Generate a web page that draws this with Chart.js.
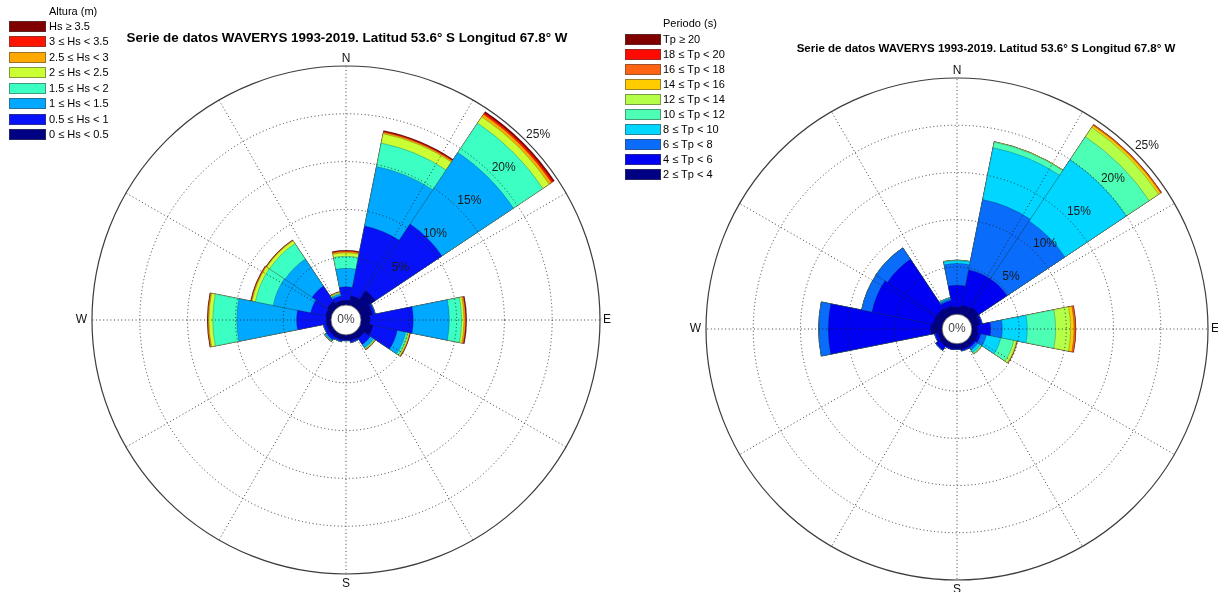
<!DOCTYPE html>
<html>
<head>
<meta charset="utf-8">
<script src="https://cdn.jsdelivr.net/npm/chart.js@4.4.0/dist/chart.umd.min.js"></script>
<style>
  html, body { margin: 0; padding: 0; background: #fff; }
  body { width: 1218px; height: 592px; position: relative; overflow: hidden;
         font-family: "Liberation Sans", Arial, Helvetica, sans-serif; color: #000; }
  canvas.rose { position: absolute; left: 0; top: 0; }
  .title { position: absolute; font-weight: bold; white-space: nowrap;
           transform: translate(-50%, -50%); z-index: 3; }
  .leg { position: absolute; left: 0; top: 0; z-index: 3; font-size: 11px; }
  .leg .ttl, .leg .lab { position: absolute; white-space: nowrap; line-height: 13px; }
  .leg .sw { position: absolute; box-sizing: border-box; border: 1px solid rgba(70,70,70,0.55); }
</style>
</head>
<body>
<canvas id="roseHs" class="rose" width="1218" height="592"></canvas>
<canvas id="roseTp" class="rose" width="1218" height="592"></canvas>
<div id="titleHs" class="title" style="left:347px; top:37px; font-size:13.4px;">Serie de datos WAVERYS 1993-2019. Latitud 53.6° S Longitud 67.8° W</div>
<div id="titleTp" class="title" style="left:986px; top:48px; font-size:11.5px;">Serie de datos WAVERYS 1993-2019. Latitud 53.6° S Longitud 67.8° W</div>
<div id="legHs" class="leg"></div>
<div id="legTp" class="leg"></div>

<script>
// Direction sectors, clockwise from north
const directions = ['N','NNE','NE','ENE','E','ESE','SE','SSE','S','SSW','SW','WSW','W','WNW','NW','NNW'];

// Frequency (%) per direction for each significant wave height class
const hs_00_05 = [0.50, 1.00, 2.10, 1.25, 0.94, 1.30, 0.70, 0.60, 0.50, 0.50, 0.50, 0.50, 0.50, 0.60, 0.75, 0.50];
const hs_05_10 = [1.40, 7.45, 8.40, 0.25, 4.53, 2.60, 0.80, 0.20, 0.10, 0.20, 0.40, 0.30, 3.10, 1.60, 1.95, 0.50];
const hs_10_15 = [1.94, 6.35, 9.00, 0.05, 3.77, 0.90, 0.40, 0.05, 0.00, 0.05, 0.15, 0.05, 6.26, 4.00, 3.40, 0.20];
const hs_15_20 = [1.26, 2.50, 3.70, 0.00, 1.29, 0.25, 0.12, 0.00, 0.00, 0.00, 0.05, 0.00, 2.51, 1.90, 1.95, 0.10];
const hs_20_25 = [0.35, 1.00, 0.80, 0.00, 0.24, 0.15, 0.08, 0.00, 0.00, 0.00, 0.04, 0.00, 0.40, 0.35, 0.35, 0.10];
const hs_25_30 = [0.15, 0.15, 0.30, 0.00, 0.16, 0.06, 0.04, 0.00, 0.00, 0.00, 0.02, 0.00, 0.10, 0.08, 0.06, 0.05];
const hs_30_35 = [0.08, 0.10, 0.20, 0.00, 0.07, 0.03, 0.02, 0.00, 0.00, 0.00, 0.00, 0.00, 0.05, 0.05, 0.03, 0.02];
const hs_35_up = [0.05, 0.08, 0.15, 0.00, 0.06, 0.02, 0.00, 0.00, 0.00, 0.00, 0.00, 0.00, 0.03, 0.03, 0.02, 0.00];
const hsSeries = [hs_00_05, hs_05_10, hs_10_15, hs_15_20, hs_20_25, hs_25_30, hs_30_35, hs_35_up];
const hsLabels = ['0 \u2264 Hs < 0.5', '0.5 \u2264 Hs < 1', '1 \u2264 Hs < 1.5', '1.5 \u2264 Hs < 2',
                  '2 \u2264 Hs < 2.5', '2.5 \u2264 Hs < 3', '3 \u2264 Hs < 3.5', 'Hs \u2265 3.5'];
const hsColors = ['#000082', '#0812F8', '#00A8FF', '#3CFFC4', '#CCFF33', '#FFA800', '#FF1400', '#800000'];

// Frequency (%) per direction for each peak period class
const tp_02_04 = [0.76, 1.00, 1.20, 0.90, 0.58, 0.70, 0.60, 0.60, 0.50, 0.50, 0.60, 0.50, 1.20, 1.00, 1.00, 0.90];
const tp_04_06 = [2.30, 3.80, 3.60, 0.20, 1.42, 0.30, 0.20, 0.15, 0.10, 0.15, 0.50, 0.30, 10.86, 6.60, 6.30, 0.60];
const tp_06_08 = [2.30, 7.60, 7.37, 0.05, 1.23, 0.60, 0.30, 0.05, 0.00, 0.00, 0.05, 0.05, 0.99, 1.10, 1.43, 0.20];
const tp_08_10 = [0.30, 5.60, 7.80, 0.00, 2.65, 1.55, 0.30, 0.00, 0.00, 0.00, 0.00, 0.00, 0.02, 0.02, 0.02, 0.10];
const tp_10_12 = [0.05, 0.60, 2.93, 0.00, 3.00, 1.40, 0.15, 0.00, 0.00, 0.00, 0.00, 0.00, 0.00, 0.00, 0.00, 0.02];
const tp_12_14 = [0.00, 0.05, 1.20, 0.00, 1.58, 0.30, 0.05, 0.00, 0.00, 0.00, 0.00, 0.00, 0.00, 0.00, 0.00, 0.00];
const tp_14_16 = [0.00, 0.00, 0.25, 0.00, 0.36, 0.05, 0.01, 0.00, 0.00, 0.00, 0.00, 0.00, 0.00, 0.00, 0.00, 0.00];
const tp_16_18 = [0.00, 0.00, 0.10, 0.00, 0.17, 0.02, 0.00, 0.00, 0.00, 0.00, 0.00, 0.00, 0.00, 0.00, 0.00, 0.00];
const tp_18_20 = [0.00, 0.00, 0.02, 0.00, 0.02, 0.00, 0.00, 0.00, 0.00, 0.00, 0.00, 0.00, 0.00, 0.00, 0.00, 0.00];
const tp_20_up = [0.00, 0.00, 0.00, 0.00, 0.00, 0.00, 0.00, 0.00, 0.00, 0.00, 0.00, 0.00, 0.00, 0.00, 0.00, 0.00];
const tpSeries = [tp_02_04, tp_04_06, tp_06_08, tp_08_10, tp_10_12, tp_12_14, tp_14_16, tp_16_18, tp_18_20, tp_20_up];
const tpLabels = ['2 \u2264 Tp < 4', '4 \u2264 Tp < 6', '6 \u2264 Tp < 8', '8 \u2264 Tp < 10', '10 \u2264 Tp < 12',
                  '12 \u2264 Tp < 14', '14 \u2264 Tp < 16', '16 \u2264 Tp < 18', '18 \u2264 Tp < 20', 'Tp \u2265 20'];
const tpColors = ['#000082', '#0000F2', '#0A6CFA', '#00D6FF', '#4CFFB4', '#B6FF48', '#FFCC00', '#FF6414', '#FF0A00', '#800000'];

// Radial rings (%) and the offset that leaves the central "0%" hole
const ringTicks = [5, 10, 15, 20, 25];
const holeOffset = 1.57;

const FONT = '"Liberation Sans", Arial, Helvetica, sans-serif';

// Grid, central hole and labels drawn on top of the stacked sectors
const roseDecor = {
  id: 'roseDecor',
  afterDatasetsDraw(chart, args, opts) {
    const s = chart.scales.r;
    const ctx = chart.ctx;
    const cx = s.xCenter, cy = s.yCenter;
    const rad = v => s.getDistanceFromCenterForValue(v);
    const r0 = rad(0), rMax = rad(s.max);
    const pt = (deg, r) => [cx + r * Math.sin(deg * Math.PI / 180), cy - r * Math.cos(deg * Math.PI / 180)];
    ctx.save();

    // dotted rings and spokes
    ctx.lineWidth = 1;
    ctx.strokeStyle = 'rgba(30,30,30,0.85)';
    ctx.setLineDash([1, 2.6]);
    ringTicks.filter(v => v < s.max).forEach(v => {
      ctx.beginPath(); ctx.arc(cx, cy, rad(v), 0, Math.PI * 2); ctx.stroke();
    });
    for (let a = 0; a < 360; a += 30) {
      const p0 = pt(a, r0), p1 = pt(a, rMax);
      ctx.beginPath(); ctx.moveTo(p0[0], p0[1]); ctx.lineTo(p1[0], p1[1]); ctx.stroke();
    }

    // outer circle
    ctx.setLineDash([]);
    ctx.strokeStyle = '#3c3c3c';
    ctx.lineWidth = 1.2;
    ctx.beginPath(); ctx.arc(cx, cy, rMax, 0, Math.PI * 2); ctx.stroke();

    // central hole
    ctx.fillStyle = '#fff';
    ctx.beginPath(); ctx.arc(cx, cy, r0, 0, Math.PI * 2); ctx.fill();
    ctx.strokeStyle = '#555';
    ctx.lineWidth = 0.8;
    ctx.stroke();

    ctx.font = opts.fontSize + 'px ' + FONT;
    ctx.textAlign = 'center';
    ctx.textBaseline = 'middle';
    ctx.fillStyle = '#444';
    ctx.fillText('0%', cx, cy);

    // ring labels
    ctx.fillStyle = '#1a1a1a';
    ringTicks.forEach(v => {
      const p = pt(46, rad(v) + 13);
      ctx.fillText(v + '%', p[0], p[1]);
    });

    // compass points
    ctx.fillStyle = '#111';
    ctx.textAlign = 'center'; ctx.textBaseline = 'bottom';
    ctx.fillText('N', cx, cy - rMax - 1);
    ctx.textBaseline = 'top';
    ctx.fillText('S', cx, cy + rMax + 4);
    ctx.textBaseline = 'middle';
    ctx.textAlign = 'right';
    ctx.fillText('W', cx - rMax - 5, cy);
    ctx.textAlign = 'left';
    ctx.fillText('E', cx + rMax + 3, cy);
    ctx.restore();
  }
};

// Each class is drawn as a cumulative polar-area dataset; lower classes sit on top
function stackedDatasets(series, colors) {
  const acc = directions.map(() => 0);
  return series.map((vals, b) => {
    vals.forEach((v, i) => { acc[i] += v; });
    return {
      label: 'c' + b,
      data: acc.slice(),
      backgroundColor: colors[b],
      borderColor: 'rgba(20,20,40,0.35)',
      borderWidth: 0.7
    };
  });
}

function makeRose(id, series, colors, pad, fontSize) {
  return new Chart(document.getElementById(id), {
    type: 'polarArea',
    data: { labels: directions, datasets: stackedDatasets(series, colors) },
    options: {
      responsive: false,
      animation: false,
      events: [],
      layout: { padding: pad },
      plugins: {
        legend: { display: false },
        tooltip: { enabled: false },
        title: { display: false },
        roseDecor: { fontSize: fontSize }
      },
      scales: {
        r: {
          min: -holeOffset,
          max: 25,
          startAngle: -11.25,
          ticks: { display: false },
          grid: { display: false },
          angleLines: { display: false },
          pointLabels: { display: false }
        }
      }
    },
    plugins: [roseDecor]
  });
}

makeRose('roseHs', hsSeries, hsColors, { left: 92, top: 66, right: 618, bottom: 18 }, 12);
makeRose('roseTp', tpSeries, tpColors, { left: 706, top: 78, right: 10, bottom: 12 }, 12);

// Legends, highest class first
function buildLegend(id, title, labels, colors, g) {
  const el = document.getElementById(id);
  const t = document.createElement('div');
  t.className = 'ttl';
  t.textContent = title;
  t.style.left = g.textX + 'px';
  t.style.top = (g.titleY - 6.5) + 'px';
  el.appendChild(t);
  const n = labels.length;
  for (let k = 0; k < n; k++) {
    const b = n - 1 - k;
    const y = g.rowY + g.rowStep * k;
    const sw = document.createElement('div');
    sw.className = 'sw';
    sw.style.left = g.swX + 'px';
    sw.style.top = (y - 5.5) + 'px';
    sw.style.width = g.swW + 'px';
    sw.style.height = '11px';
    sw.style.background = colors[b];
    el.appendChild(sw);
    const lab = document.createElement('div');
    lab.className = 'lab';
    lab.textContent = labels[b];
    lab.style.left = g.textX + 'px';
    lab.style.top = (y - 6.5) + 'px';
    el.appendChild(lab);
  }
}

buildLegend('legHs', 'Altura (m)', hsLabels, hsColors,
  { textX: 49, titleY: 11, rowY: 26, rowStep: 15.5, swX: 9, swW: 37 });
buildLegend('legTp', 'Periodo (s)', tpLabels, tpColors,
  { textX: 663, titleY: 23, rowY: 39, rowStep: 15, swX: 625, swW: 36 });
</script>
</body>
</html>
